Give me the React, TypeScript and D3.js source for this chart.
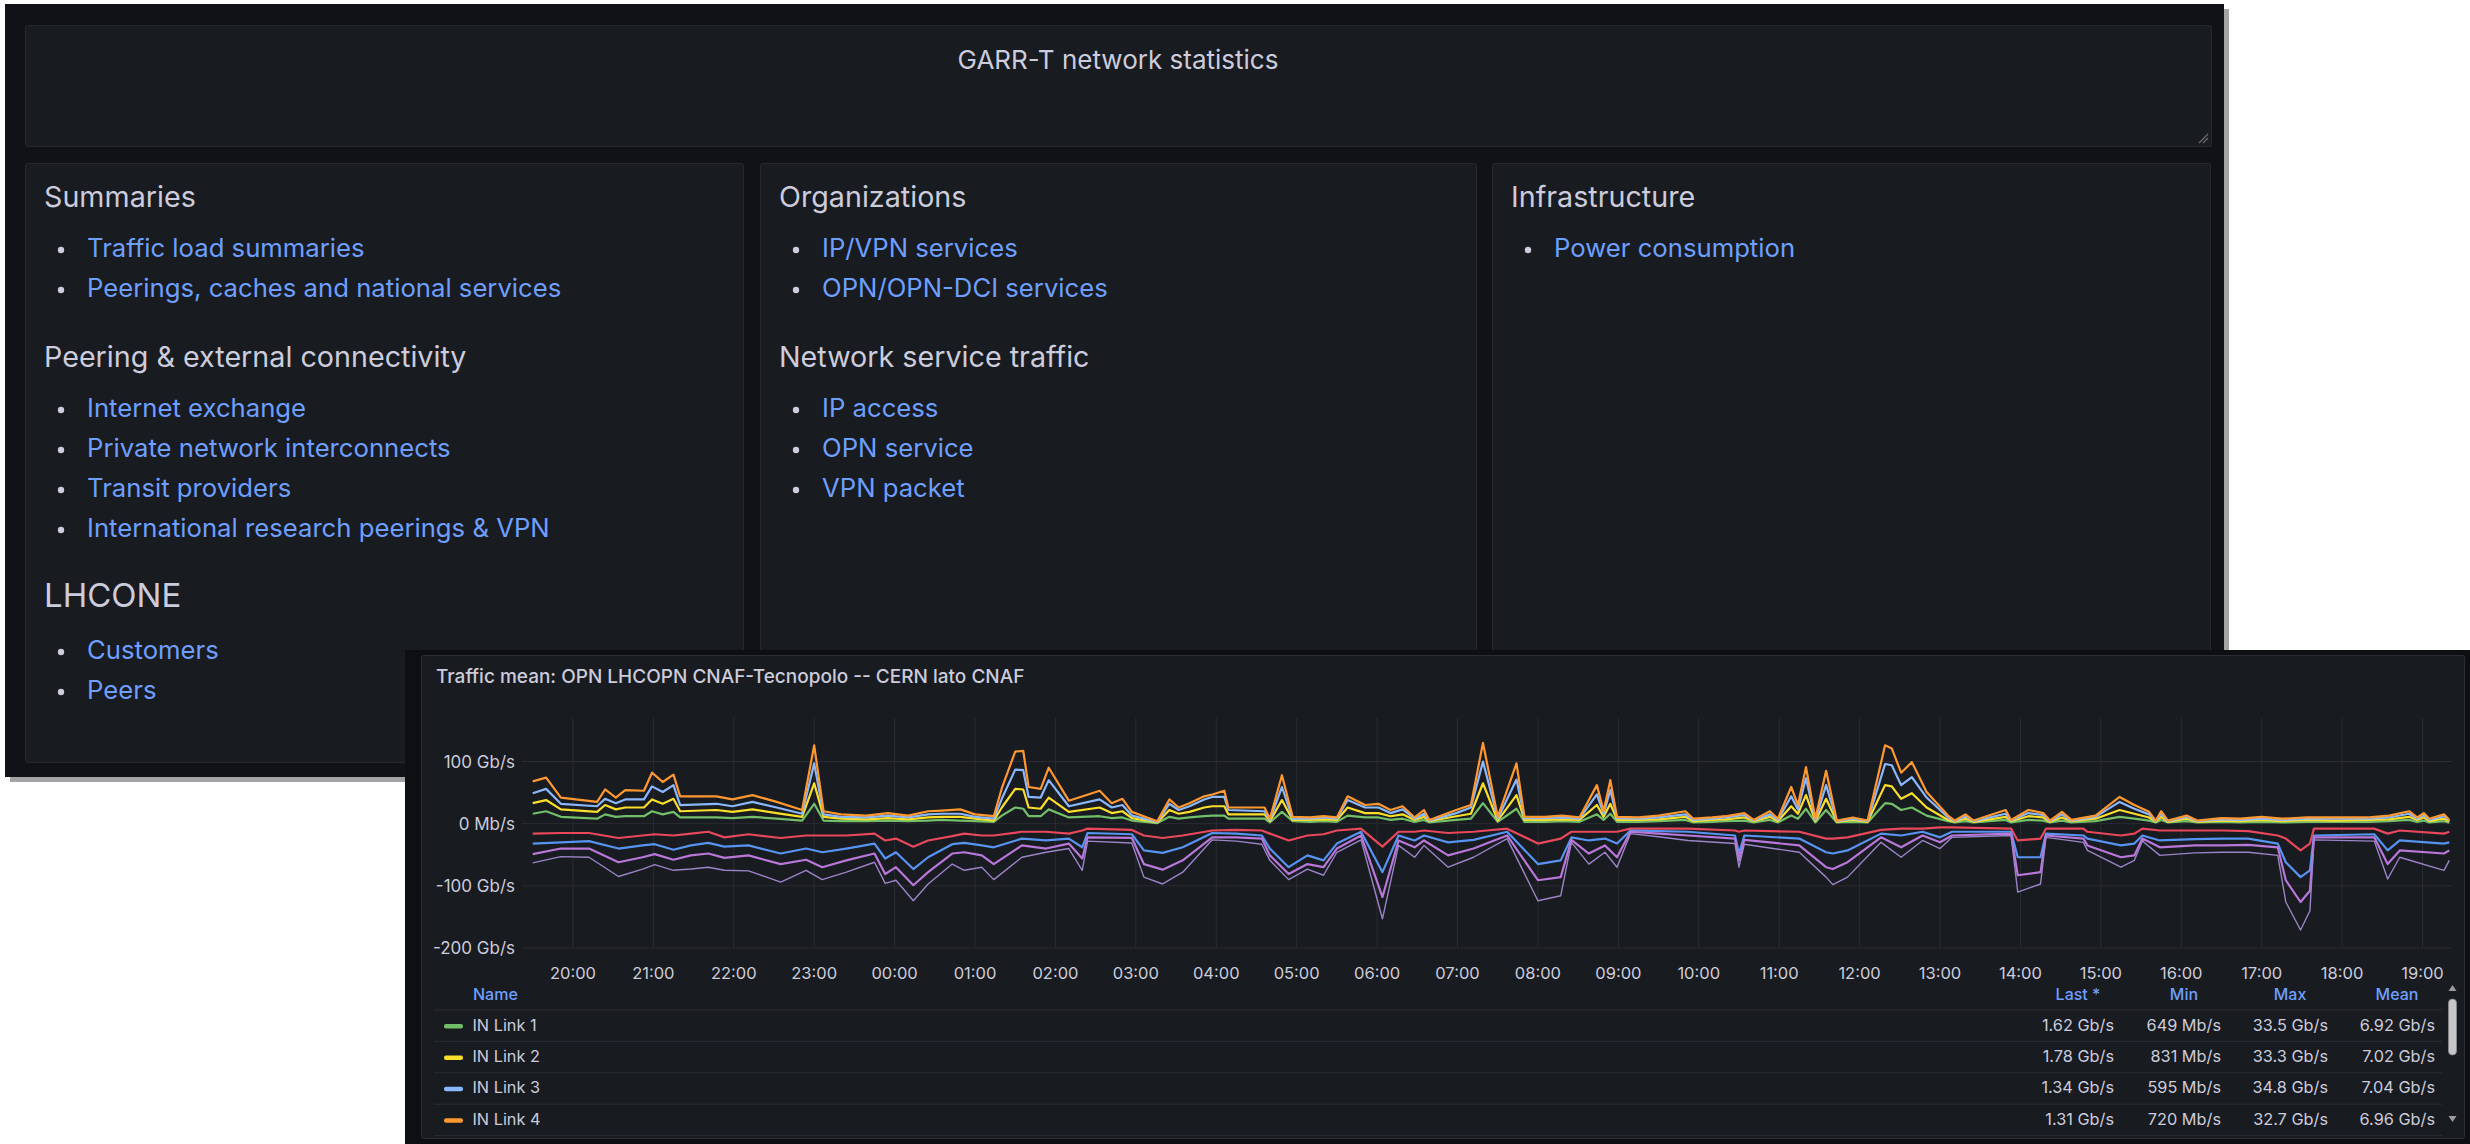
import React from 'react';
import * as d3 from 'd3';

const FONT = 'Inter, "Noto Sans", sans-serif';
const TEXT = '#ccccdc';
const LINK = '#6e9fff';

// text panels of the dashboard
const summariesLinks = ['Traffic load summaries', 'Peerings, caches and national services'];
const peeringLinks = [
  'Internet exchange',
  'Private network interconnects',
  'Transit providers',
  'International research peerings & VPN',
];
const lhconeLinks = ['Customers', 'Peers'];
const organizationLinks = ['IP/VPN services', 'OPN/OPN-DCI services'];
const serviceTrafficLinks = ['IP access', 'OPN service', 'VPN packet'];
const infrastructureLinks = ['Power consumption'];

// traffic chart, minutes after 19:30, values in Gb/s (stacked in the chart)
const inMinutes = [
  0, 10, 21, 48, 54, 62, 69, 83, 89, 97,
  105, 110, 137, 149, 164, 182, 201, 210, 217, 230,
  249, 265, 280, 295, 305, 319, 330, 344, 350, 360,
  366, 370, 379, 385, 400, 423, 432, 440, 447, 466,
  475, 482, 490, 501, 507, 516, 519, 546, 550, 559,
  567, 580, 590, 600, 608, 621, 631, 640, 649, 658,
  665, 669, 689, 700, 709, 720, 734, 740, 755, 768,
  781, 794, 799, 804, 809, 825, 840, 860, 866, 880,
  890, 904, 911, 923, 929, 939, 944, 950, 957, 965,
  973, 985, 996, 1009, 1014, 1021, 1029, 1040, 1056, 1061,
  1069, 1075, 1099, 1103, 1116, 1127, 1132, 1141, 1148, 1166,
  1184, 1195, 1206, 1211, 1215, 1220, 1234, 1242, 1260, 1274,
  1290, 1305, 1324, 1345, 1370, 1385, 1400, 1406, 1411, 1415,
  1426, 1430,
];
const inLink1 = [
  16, 20, 11, 8, 15, 11, 12, 12, 20, 15,
  19, 10, 10, 9, 11, 8, 5, 32, 5, 4,
  4, 5, 4, 5, 6, 5, 4, 3, 13, 26,
  24, 12, 12, 23, 10, 12, 9, 10, 5, 1,
  11, 8, 10, 12, 13, 13, 8, 8, 2, 19,
  4, 3, 4, 3, 13, 10, 10, 6, 8, 3,
  6, 2, 6, 8, 33, 3, 24, 3, 3, 4,
  3, 15, 6, 16, 3, 3, 4, 6, 2, 3,
  4, 5, 2, 6, 2, 13, 8, 24, 2, 22,
  2, 3, 2, 33, 32, 22, 26, 13, 4, 2,
  4, 2, 6, 2, 6, 5, 2, 5, 2, 4,
  11, 8, 5, 2, 6, 2, 4, 2, 3, 2,
  3, 2, 3, 3, 3, 4, 6, 3, 5, 2,
  4, 1.6,
];
const inLink2 = [
  17, 18, 12, 11, 15, 12, 14, 14, 19, 17,
  21, 10, 12, 10, 12, 9, 6, 33, 6, 4,
  3, 4, 3, 5, 5, 6, 4, 2, 13, 30,
  31, 14, 12, 19, 9, 14, 8, 10, 4, 1,
  11, 8, 9, 14, 15, 15, 7, 7, 2, 19,
  2, 3, 3, 3, 13, 7, 7, 6, 7, 3,
  5, 2, 6, 8, 32, 2, 22, 3, 3, 3,
  3, 15, 5, 16, 3, 3, 3, 5, 2, 3,
  3, 5, 2, 5, 2, 15, 8, 22, 2, 18,
  1, 3, 1, 29, 28, 18, 23, 13, 2, 1,
  4, 1, 5, 2, 6, 5, 1, 5, 2, 4,
  11, 8, 5, 1, 5, 1, 4, 1, 2, 2,
  3, 2, 3, 2, 3, 3, 5, 3, 5, 2,
  4, 1.8,
];
const inLink3 = [
  16, 18, 9, 9, 10, 10, 13, 13, 21, 19,
  22, 10, 10, 9, 12, 9, 5, 32, 4, 3,
  3, 4, 3, 5, 5, 5, 3, 3, 14, 31,
  31, 17, 18, 28, 9, 13, 9, 10, 4, 1,
  10, 6, 9, 13, 15, 15, 7, 5, 2, 21,
  2, 2, 3, 2, 12, 9, 9, 5, 8, 2,
  5, 1, 5, 10, 35, 3, 25, 3, 3, 3,
  2, 17, 5, 22, 3, 2, 3, 4, 2, 2,
  3, 4, 1, 4, 2, 16, 7, 27, 2, 22,
  1, 2, 1, 34, 34, 22, 26, 16, 4, 1,
  4, 1, 5, 1, 5, 4, 1, 5, 1, 3,
  13, 8, 5, 1, 5, 1, 3, 1, 2, 2,
  2, 2, 2, 3, 2, 3, 5, 2, 4, 2,
  4, 1.3,
];
const inLink4 = [
  19, 18, 10, 7, 15, 9, 15, 14, 22, 16,
  17, 14, 12, 11, 11, 9, 6, 29, 5, 4,
  3, 4, 3, 5, 5, 7, 4, 4, 17, 29,
  31, 16, 14, 20, 9, 14, 7, 10, 6, 1,
  7, 4, 5, 5, 4, 10, 4, 6, 2, 19,
  3, 2, 2, 2, 6, 4, 6, 5, 5, 2,
  6, 1, 5, 4, 30, 3, 26, 2, 2, 3,
  2, 15, 4, 16, 2, 2, 3, 5, 2, 2,
  2, 3, 1, 5, 2, 15, 7, 18, 2, 23,
  1, 2, 1, 30, 27, 20, 24, 9, 3, 1,
  3, 1, 6, 1, 5, 3, 1, 4, 1, 2,
  8, 6, 4, 1, 4, 1, 2, 1, 2, 2,
  3, 2, 2, 2, 2, 3, 4, 2, 3, 2,
  3, 1.3,
];

// outgoing links, drawn below zero
const outMinutes = [
  0, 21, 42, 64, 82, 91, 105, 118, 131, 143,
  161, 185, 204, 216, 234, 255, 263, 271, 284, 295,
  313, 322, 335, 344, 365, 383, 400, 410, 414, 447,
  456, 470, 485, 507, 525, 544, 550, 564, 578, 590,
  600, 618, 634, 646, 658, 665, 683, 702, 727, 750,
  767, 775, 788, 800, 809, 819, 840, 862, 897, 900,
  904, 945, 965, 970, 981, 1006, 1021, 1037, 1050, 1059,
  1103, 1108, 1125, 1129, 1157, 1160, 1185, 1195, 1201, 1214,
  1240, 1261, 1280, 1302, 1308, 1319, 1326, 1329, 1374, 1384,
  1393, 1426, 1430,
];
const outLink1 = [
  16, 15, 15, 23, 19, 17, 19, 16, 13, 22,
  17, 23, 19, 19, 19, 16, 27, 24, 37, 27,
  20, 16, 19, 19, 13, 13, 16, 11, 8, 10,
  19, 23, 19, 11, 10, 11, 16, 27, 19, 17,
  11, 8, 37, 13, 13, 11, 15, 13, 8, 32,
  24, 13, 13, 13, 13, 8, 8, 8, 11, 13,
  11, 13, 24, 24, 22, 10, 8, 8, 6, 6,
  8, 27, 24, 8, 8, 13, 19, 16, 8, 11,
  11, 11, 12, 19, 24, 43, 32, 8, 8, 16,
  11, 16, 13,
];
const outLink2 = [
  16, 15, 13, 17, 16, 16, 23, 19, 18, 15,
  18, 25, 21, 27, 21, 16, 29, 22, 36, 27,
  13, 15, 16, 19, 11, 14, 8, 27, 7, 7,
  24, 24, 19, 4, 6, 8, 24, 43, 32, 42,
  21, 5, 41, 6, 14, 8, 15, 13, 5, 33,
  35, 9, 14, 11, 19, 3, 4, 5, 8, 35,
  8, 11, 22, 24, 21, 6, 11, 5, 16, 7,
  5, 27, 30, 8, 11, 11, 16, 16, 11, 16,
  14, 13, 12, 13, 38, 43, 43, 11, 9, 27,
  16, 16, 17,
];
const outLink3 = [
  17, 10, 12, 22, 19, 16, 16, 16, 17, 18,
  16, 17, 18, 24, 19, 16, 25, 24, 26, 24,
  15, 15, 16, 27, 11, 13, 8, 18, 7, 6,
  22, 27, 21, 7, 6, 5, 11, 11, 14, 11,
  8, 6, 40, 8, 11, 8, 21, 14, 6, 26,
  27, 4, 21, 11, 22, 2, 4, 6, 5, 11,
  7, 11, 24, 25, 19, 6, 19, 6, 8, 6,
  3, 29, 24, 3, 5, 11, 19, 19, 5, 11,
  10, 11, 10, 6, 29, 40, 33, 3, 5, 22,
  16, 16, 13,
];
const outLink4 = [
  14, 13, 14, 23, 19, 17, 17, 22, 22, 20,
  25, 29, 17, 20, 19, 14, 15, 21, 25, 19,
  17, 29, 19, 25, 19, 6, 8, 19, 6, 8,
  21, 23, 19, 4, 6, 9, 8, 9, 8, 13,
  6, 7, 35, 8, 16, 8, 19, 14, 5, 33,
  30, 4, 17, 11, 16, 3, 5, 8, 8, 11,
  7, 11, 16, 25, 24, 8, 16, 8, 10, 3,
  3, 27, 19, 3, 6, 8, 16, 8, 4, 13,
  12, 11, 12, 13, 35, 45, 32, 4, 6, 24,
  11, 27, 16,
];

const inColors = ['#73BF69', '#FADE2A', '#8AB8FF', '#FF9830'];
const outColors = ['#E8485B', '#5794F2', '#B877D9', '#9C84C8'];

const yTicks = [100, 0, -100, -200];
const yTickLabels = ['100 Gb/s', '0 Mb/s', '-100 Gb/s', '-200 Gb/s'];

const legendNames = ['IN Link 1', 'IN Link 2', 'IN Link 3', 'IN Link 4'];
const statHeaders = ['Last *', 'Min', 'Max', 'Mean'];
const lastValues = ['1.62 Gb/s', '1.78 Gb/s', '1.34 Gb/s', '1.31 Gb/s'];
const minValues = ['649 Mb/s', '831 Mb/s', '595 Mb/s', '720 Mb/s'];
const maxValues = ['33.5 Gb/s', '33.3 Gb/s', '34.8 Gb/s', '32.7 Gb/s'];
const meanValues = ['6.92 Gb/s', '7.02 Gb/s', '7.04 Gb/s', '6.96 Gb/s'];

const KEYS = ['l1', 'l2', 'l3', 'l4'];

type Block = { title: string; size: number; links: string[] };

// one text panel: headings and bullet lists flowing down
function TextPanel({ x, y, w, h, blocks }: { x: number; y: number; w: number; h: number; blocks: Block[] }) {
  let cy = y + 44;
  const items: JSX.Element[] = [];
  blocks.forEach((b, bi) => {
    if (bi > 0) cy += 70;
    items.push(
      <text key={'h' + bi} x={x + 19} y={cy} fontSize={b.size} fill={TEXT}>
        {b.title}
      </text>
    );
    cy += b.size > 30 ? 52 : 50;
    b.links.forEach((l, li) => {
      if (li > 0) cy += 40;
      items.push(
        <g key={'l' + bi + '-' + li}>
          <circle cx={x + 36} cy={cy - 7} r={3.2} fill={TEXT} />
          <text x={x + 62} y={cy} fontSize={25.7} fill={LINK}>
            {l}
          </text>
        </g>
      );
    });
  });
  return (
    <g>
      <rect x={x + 0.5} y={y + 0.5} width={w} height={h} fill="#181b1f" stroke="#25282d" rx={2} />
      {items}
    </g>
  );
}

function TrafficChart() {
  const axisStart = new Date(2024, 0, 1, 19, 22);
  const dataStart = new Date(2024, 0, 1, 19, 30);
  const x = d3.scaleTime().domain([axisStart, d3.timeHour.offset(axisStart, 24)]).range([522, 2452]);
  const y = d3.scaleLinear().domain([-200, 170]).range([948, 718]);

  const inRows = inMinutes.map((m, i) => ({
    t: d3.timeMinute.offset(dataStart, m),
    l1: inLink1[i], l2: inLink2[i], l3: inLink3[i], l4: inLink4[i],
  }));
  const outRows = outMinutes.map((m, i) => ({
    t: d3.timeMinute.offset(dataStart, m),
    l1: -outLink1[i], l2: -outLink2[i], l3: -outLink3[i], l4: -outLink4[i],
  }));
  const stack = d3.stack<any>().keys(KEYS);
  const inLayers = stack(inRows);
  const outLayers = stack(outRows);

  const line = d3
    .line<any>()
    .x((d) => x(d.data.t))
    .y((d) => y(d[1]));

  const hours = x.ticks(d3.timeHour.every(1) as d3.TimeInterval);
  const fmt = d3.timeFormat('%H:%M');

  const valueRight = [2114, 2221, 2328, 2435];
  const headerCenter = [2078, 2184, 2290, 2397];
  const statCols = [lastValues, minValues, maxValues, meanValues];
  const rowY = (i: number) => 1030.5 + 31.4 * i;

  return (
    <g fontFamily={FONT}>
      <rect x={405} y={650} width={2065} height={494} fill="#0e0f12" />
      <rect x={421.5} y={655.5} width={2043} height={483} fill="#181b1f" stroke="#2a2d33" rx={2} />
      <text x={436} y={683} fontSize={19} fontWeight={500} fill={TEXT}>
        Traffic mean: OPN LHCOPN CNAF-Tecnopolo -- CERN lato CNAF
      </text>

      {/* grid */}
      {yTicks.map((v) => (
        <line key={'gy' + v} x1={522} x2={2452} y1={y(v)} y2={y(v)} stroke="#2a2c31" strokeWidth={1} />
      ))}
      {hours.map((h) => (
        <line key={'gx' + h.getTime()} x1={x(h)} x2={x(h)} y1={718} y2={948} stroke="#2a2c31" strokeWidth={1} />
      ))}
      {yTicks.map((v, i) => (
        <text key={'yl' + v} x={515} y={y(v) + 6} fontSize={17} fill={TEXT} textAnchor="end">
          {yTickLabels[i]}
        </text>
      ))}
      {hours.map((h) => (
        <text key={'xl' + h.getTime()} x={x(h)} y={979} fontSize={16.5} fill={TEXT} textAnchor="middle">
          {fmt(h)}
        </text>
      ))}

      {/* series */}
      <clipPath id="plotClip">
        <rect x={522} y={690} width={1930} height={270} />
      </clipPath>
      <g clipPath="url(#plotClip)" fill="none" strokeLinejoin="round">
        {outLayers.map((layer, i) => (
          <path key={'o' + i} d={line(layer) || ''} stroke={outColors[i]} strokeWidth={i === 3 ? 1.4 : 2.2} />
        ))}
        {inLayers.map((layer, i) => (
          <path key={'i' + i} d={line(layer) || ''} stroke={inColors[i]} strokeWidth={2.2} />
        ))}
      </g>

      {/* legend table */}
      <text x={473} y={1000} fontSize={16} fontWeight={500} fill={LINK}>
        Name
      </text>
      {statHeaders.map((s, i) => (
        <text key={'sh' + i} x={headerCenter[i]} y={1000} fontSize={16} fontWeight={500} fill={LINK} textAnchor="middle">
          {s}
        </text>
      ))}
      {[0, 1, 2, 3, 4].map((i) => (
        <line key={'sep' + i} x1={434} x2={2442} y1={1010 + 31.4 * i} y2={1010 + 31.4 * i} stroke="#2a2d33" />
      ))}
      {legendNames.map((n, i) => (
        <g key={'row' + i}>
          <rect x={444} y={rowY(i) - 6.5} width={19} height={4.5} rx={2} fill={inColors[i]} />
          <text x={472.5} y={rowY(i)} fontSize={16.3} fill={TEXT}>
            {n}
          </text>
          {statCols.map((col, c) => (
            <text key={c} x={valueRight[c]} y={rowY(i)} fontSize={16.3} fill={TEXT} textAnchor="end">
              {col[i]}
            </text>
          ))}
        </g>
      ))}

      {/* scrollbar */}
      <path d="M2448.5,991 L2452.5,985 L2456.5,991 Z" fill="#9a9ba0" />
      <rect x={2448.5} y={999} width={8} height={56} rx={4} fill="#c6c6c8" stroke="#8c8c90" strokeWidth={0.8} />
      <path d="M2448.5,1116 L2452.5,1122 L2456.5,1116 Z" fill="#9a9ba0" />
    </g>
  );
}

export default function App() {
  const panel1: Block[] = [
    { title: 'Summaries', size: 28.7, links: summariesLinks },
    { title: 'Peering & external connectivity', size: 28.7, links: peeringLinks },
    { title: 'LHCONE', size: 33, links: lhconeLinks },
  ];
  const panel2: Block[] = [
    { title: 'Organizations', size: 28.7, links: organizationLinks },
    { title: 'Network service traffic', size: 28.7, links: serviceTrafficLinks },
  ];
  const panel3: Block[] = [{ title: 'Infrastructure', size: 28.7, links: infrastructureLinks }];

  return (
    <svg
      width={2470}
      height={1144}
      style={{ position: 'absolute', left: 0, top: 0, display: 'block' }}
      fontFamily={FONT}
    >
      <rect x={0} y={0} width={2470} height={1144} fill="#ffffff" />
      {/* dashboard screenshot */}
      <rect x={10} y={9} width={2219} height={773} fill="#a4a4a6" />
      <rect x={5} y={4} width={2219} height={773} fill="#111217" />
      <rect x={25.5} y={25.5} width={2186} height={121} fill="#181b1f" stroke="#25282d" rx={2} />
      <text x={1118} y={69} fontSize={26} fill={TEXT} textAnchor="middle">
        GARR-T network statistics
      </text>
      <path d="M2199,143 L2208,134 M2203,143 L2208,138" stroke="#6b6d73" strokeWidth={1.2} />
      <TextPanel x={25} y={163} w={718} h={599} blocks={panel1} />
      <TextPanel x={760} y={163} w={716} h={599} blocks={panel2} />
      <TextPanel x={1492} y={163} w={718} h={599} blocks={panel3} />

      <TrafficChart />
    </svg>
  );
}
